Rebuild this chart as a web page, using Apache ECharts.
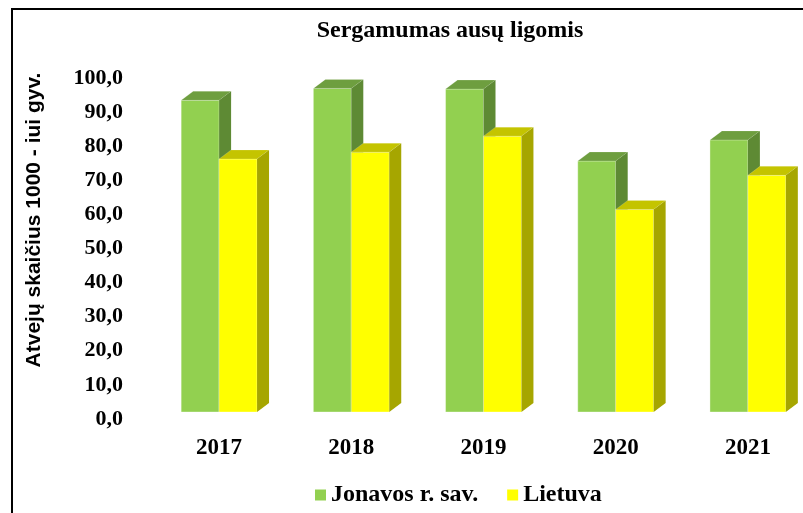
<!DOCTYPE html>
<html>
<head>
<meta charset="utf-8">
<script src="https://cdn.jsdelivr.net/npm/echarts@6/dist/echarts.min.js"></script>
<style>
  html, body { margin: 0; padding: 0; background: #fff; }
  #chart { width: 803px; height: 513px; }
</style>
</head>
<body>
<div id="chart"></div>
<script>
// Categories and series values
const years = ['2017', '2018', '2019', '2020', '2021'];
const jonava = [91.4, 94.9, 94.7, 73.6, 79.8];
const lietuva = [74.2, 76.2, 80.9, 59.4, 69.4];
const seriesNames = ['Jonavos r. sav.', 'Lietuva'];
const yAxisTitle = 'Atvejų skaičius 1000 - iui gyv.';
const chartTitle = 'Sergamumas ausų ligomis';

const SERIF = '"Liberation Serif", "Times New Roman", serif';
const SANS = '"Liberation Sans", Arial, sans-serif';

// Column faces: front, top, side
const greenFaces = { front: '#92D050', top: '#6E9E3F', side: '#5E8A34' };
const yellowFaces = { front: '#FFFF00', top: '#C4C400', side: '#A6A600' };

const BAR_RATIO = 0.287;   // width of one column as a share of the category band
const DEPTH_X = 12, DEPTH_Y = 9;

function cuboid(side, faces) {
  return function (params, api) {
    const i = api.value(0);
    const v = api.value(1);
    const top = api.coord([i, v]);
    const base = api.coord([i, 0]);
    const w = api.size([1, 0])[0] * BAR_RATIO;
    const x0 = side < 0 ? top[0] - w : top[0];
    const x1 = x0 + w;
    const yt = top[1], yb = base[1];
    const edge = 'rgba(255,255,255,0.35)';
    return {
      type: 'group',
      children: [
        { type: 'rect', shape: { x: x0, y: yt, width: w, height: yb - yt },
          style: { fill: faces.front, stroke: edge, lineWidth: 1 } },
        { type: 'polygon', shape: { points: [[x0, yt], [x1, yt], [x1 + DEPTH_X, yt - DEPTH_Y], [x0 + DEPTH_X, yt - DEPTH_Y]] },
          style: { fill: faces.top, stroke: edge, lineWidth: 0.5 } },
        { type: 'polygon', shape: { points: [[x1, yt], [x1 + DEPTH_X, yt - DEPTH_Y], [x1 + DEPTH_X, yb - DEPTH_Y], [x1, yb]] },
          style: { fill: faces.side } }
      ]
    };
  };
}

const chart = echarts.init(document.getElementById('chart'), null, { renderer: 'canvas' });

const option = {
  backgroundColor: '#ffffff',
  animation: false,
  grid: [
    { left: 153, top: 71, width: 661, height: 341, outerBoundsMode: 'none', containLabel: false },
    { left: 130, top: 78, width: 10, height: 341, outerBoundsMode: 'none', containLabel: false }
  ],
  xAxis: [
    {
      type: 'category', gridIndex: 0, data: years,
      axisLine: { show: false }, axisTick: { show: false },
      axisLabel: { margin: 25, color: '#000', fontFamily: SERIF, fontWeight: 'bold', fontSize: 23 }
    },
    { type: 'value', gridIndex: 1, show: false }
  ],
  yAxis: [
    {
      type: 'value', gridIndex: 0, min: 0, max: 100, interval: 10,
      axisLine: { show: false }, axisTick: { show: false },
      axisLabel: { show: false }, splitLine: { show: false }
    },
    {
      type: 'value', gridIndex: 1, min: 0, max: 100, interval: 10,
      axisLine: { show: false }, axisTick: { show: false }, splitLine: { show: false },
      axisLabel: {
        margin: 7, color: '#000', fontFamily: SERIF, fontWeight: 'bold', fontSize: 22,
        formatter: v => v.toFixed(1).replace('.', ',')
      }
    }
  ],
  legend: {
    left: 315, top: 483, padding: 0, itemWidth: 11, itemHeight: 11, itemGap: 29,
    icon: 'rect',
    textStyle: { color: '#000', fontFamily: SERIF, fontWeight: 'bold', fontSize: 24 },
    data: seriesNames
  },
  series: [
    {
      name: seriesNames[0], type: 'custom', xAxisIndex: 0, yAxisIndex: 0,
      itemStyle: { color: greenFaces.front },
      renderItem: cuboid(-1, greenFaces),
      encode: { x: 0, y: 1 },
      data: jonava.map((v, i) => [i, v]),
      z: 2
    },
    {
      name: seriesNames[1], type: 'custom', xAxisIndex: 0, yAxisIndex: 0,
      itemStyle: { color: yellowFaces.front },
      renderItem: cuboid(1, yellowFaces),
      encode: { x: 0, y: 1 },
      data: lietuva.map((v, i) => [i, v]),
      z: 3
    }
  ],
  graphic: [
    { type: 'polyline', silent: true,
      shape: { points: [[12, 513], [12, 9], [803, 9]] },
      style: { stroke: '#000', lineWidth: 2, fill: null } },
    { type: 'text', x: 450, y: 31,
      style: { text: chartTitle, fill: '#000', font: 'bold 24px ' + SERIF, textAlign: 'center', textVerticalAlign: 'middle' } },
    { type: 'text', x: 34, y: 220, rotation: Math.PI / 2,
      style: { text: yAxisTitle, fill: '#000', font: 'bold 21px ' + SANS, textAlign: 'center', textVerticalAlign: 'middle' } }
  ]
};

chart.setOption(option);
</script>
</body>
</html>
